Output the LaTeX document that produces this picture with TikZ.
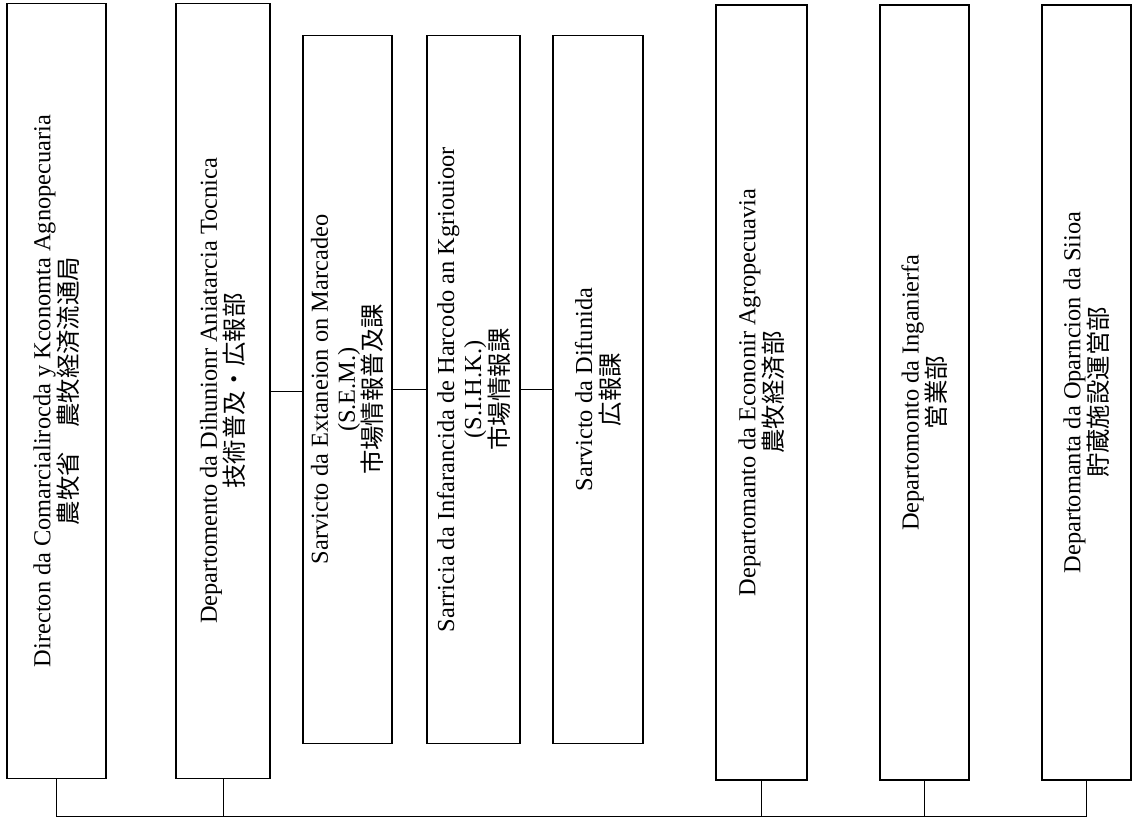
\documentclass[tikz,border=0pt]{standalone}
\usepackage{fontspec}
\setmainfont{Liberation Serif}
\newfontfamily\jp{Noto Sans CJK JP}
\usetikzlibrary{positioning}

\begin{document}
\begin{tikzpicture}[x=0.5pt,y=-0.5pt,
  font=\fontsize{12.2}{13.5}\selectfont,
  org/.style={draw,line width=0.8pt,rotate=90,align=center,inner sep=0pt,minimum height=45pt},
  dept/.style={org,minimum width=387.5pt},
  serv/.style={org,minimum width=354pt},
  lnk/.style={line width=0.5pt}]
  \useasboundingbox (0,0) rectangle (1133,818);

  % ministry and its department
  \node[dept,minimum height=49.5pt] at (56.5,391) (dir) {Directon da Comarcialirocda y Kconomta Agnopecuaria\\{\jp 農牧省　農牧経済流通局}};
  \node[dept,minimum height=47pt] at (223,391) (ded) {Departomento da Dihunionr Aniatarcia Tocnica\\{\jp 技術普及・広報部}};
  % services (shorter boxes)
  \node[serv,minimum height=44.5pt] at (347.5,389.5) (sem) {Sarvicto da Extaneion on Marcadeo\\(S.E.M.)\\{\jp 市場情報普及課}};
  \node[serv,minimum height=46.5pt] at (473.5,389.5) (sih) {Sarricia da Infarancida de Harcodo an Kgriouioor\\(S.I.H.K.)\\{\jp 市場情報課}};
  \node[serv,minimum height=45pt] at (598,389.5) (sdi) {Sarvicto da Difunida\\{\jp 広報課}};
  % other departments
  \node[dept,minimum height=45.5pt] at (761.5,392.5) (dea) {Departomanto da Econonir Agropecuavia\\{\jp 農牧経済部}};
  \node[dept,minimum height=44.5pt] at (924.5,392.5) (din) {Departomonto da Inganierfa\\{\jp 営業部}};
  \node[dept,minimum height=44.5pt] at (1086.5,392.5) (dos) {Departomanta da Oparncion da Siioa\\{\jp 貯蔵施設運営部}};

  \draw[lnk] (ded.south) -- (ded.south -| sem.north);
  \draw[lnk] (sem.south) -- (sem.south -| sih.north);
  \draw[lnk] (sih.south) -- (sih.south -| sdi.north);

  % bus along the bottom
  \coordinate (bus) at (0,816);
  \draw[lnk] (dir.west) -- (dir.west |- bus) -- (dos.west |- bus) -- (dos.west);
  \draw[lnk] (ded.west) -- (ded.west |- bus);
  \draw[lnk] (dea.west) -- (dea.west |- bus);
  \draw[lnk] (din.west) -- (din.west |- bus);
\end{tikzpicture}
\end{document}
